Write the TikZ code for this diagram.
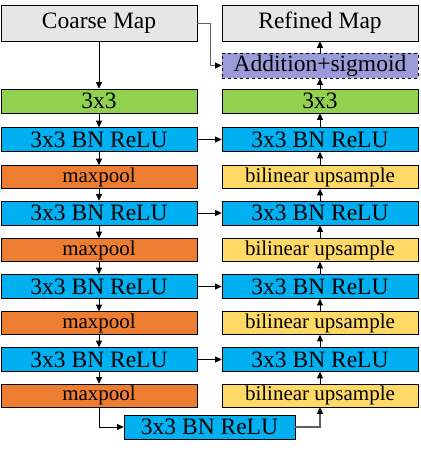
\documentclass[tikz,border=0pt]{standalone}
\usepackage{fontspec}
\setmainfont{Liberation Serif}
\usetikzlibrary{arrows.meta}
\definecolor{mapgray}{HTML}{E6E6E6}
\definecolor{convgreen}{HTML}{92D050}
\definecolor{bnblue}{HTML}{00B0F0}
\definecolor{poolorange}{HTML}{ED7D31}
\definecolor{upyellow}{HTML}{FFD966}
\definecolor{addlilac}{HTML}{9B9BD9}
\definecolor{linkgray}{HTML}{606060}
\begin{document}
\begin{tikzpicture}[x=1pt, y=-1pt,
    blk/.style={draw=black, line width=0.7pt, minimum width=196pt, minimum height=24pt, inner sep=0pt, font=\fontsize{23.5}{24}\selectfont},
    smallblk/.style={blk, minimum height=23pt, font=\fontsize{21}{22}\selectfont},
    mapbox/.style={blk, fill=mapgray, minimum height=36pt},
    link/.style={line width=0.8pt, -{Triangle[length=6.5pt, width=6pt]}},
    graylink/.style={draw=linkgray, line width=0.8pt, -{Triangle[length=6.5pt, width=6pt, color=black]}}]
  \useasboundingbox (0,0) rectangle (420,457);
  % encoder
  \node[mapbox] (coarse) at (99,23) {Coarse Map};
  \node[blk, fill=convgreen] (lconv) at (99,101) {3x3};
  \node[blk, fill=bnblue] (lbn1) at (99,139.5) {3x3 BN ReLU};
  \node[smallblk, fill=poolorange] (pool1) at (99,177) {maxpool};
  \node[blk, fill=bnblue] (lbn2) at (99,213) {3x3 BN ReLU};
  \node[smallblk, fill=poolorange] (pool2) at (99,250) {maxpool};
  \node[blk, fill=bnblue] (lbn3) at (99,286.5) {3x3 BN ReLU};
  \node[smallblk, fill=poolorange] (pool3) at (99,323) {maxpool};
  \node[blk, fill=bnblue] (lbn4) at (99,359.5) {3x3 BN ReLU};
  \node[smallblk, fill=poolorange] (pool4) at (99,395.5) {maxpool};
  % bottleneck
  \node[blk, fill=bnblue, minimum width=171pt] (mid) at (209.5,427) {3x3 BN ReLU};
  % decoder
  \node[mapbox] (refined) at (320,23) {Refined Map};
  \node[blk, fill=addlilac, dashed, minimum height=25pt] (add) at (320,65.5) {Addition+sigmoid};
  \node[blk, fill=convgreen] (rconv) at (320,101) {3x3};
  \node[blk, fill=bnblue] (rbn1) at (320,139.5) {3x3 BN ReLU};
  \node[smallblk, fill=upyellow] (up1) at (320,177) {bilinear\ upsample};
  \node[blk, fill=bnblue] (rbn2) at (320,213) {3x3 BN ReLU};
  \node[smallblk, fill=upyellow] (up2) at (320,250) {bilinear\ upsample};
  \node[blk, fill=bnblue] (rbn3) at (320,286.5) {3x3 BN ReLU};
  \node[smallblk, fill=upyellow] (up3) at (320,323) {bilinear\ upsample};
  \node[blk, fill=bnblue] (rbn4) at (320,359.5) {3x3 BN ReLU};
  \node[smallblk, fill=upyellow] (up4) at (320,395.5) {bilinear\ upsample};
  % down path
  \foreach \a/\b in {coarse/lconv, lconv/lbn1, lbn1/pool1, pool1/lbn2, lbn2/pool2, pool2/lbn3, lbn3/pool3, pool3/lbn4, lbn4/pool4}
    \draw[link] (\a) -- (\b);
  \draw[link] (pool4.south) |- (mid.west);
  % up path
  \draw[graylink, line width=1.4pt] (mid.east) -| (up4.south);
  \foreach \a/\b in {up4/rbn4, rbn4/up3, up3/rbn3, rbn3/up2, up2/rbn2, rbn2/up1, up1/rbn1, rbn1/rconv, rconv/add, add/refined}
    \draw[link] (\a) -- (\b);
  % skips
  \foreach \i in {1,...,4}
    \draw[link] (lbn\i) -- (rbn\i);
  \draw[graylink] (coarse.east) -- (210,23) |- (add.west);
\end{tikzpicture}
\end{document}
